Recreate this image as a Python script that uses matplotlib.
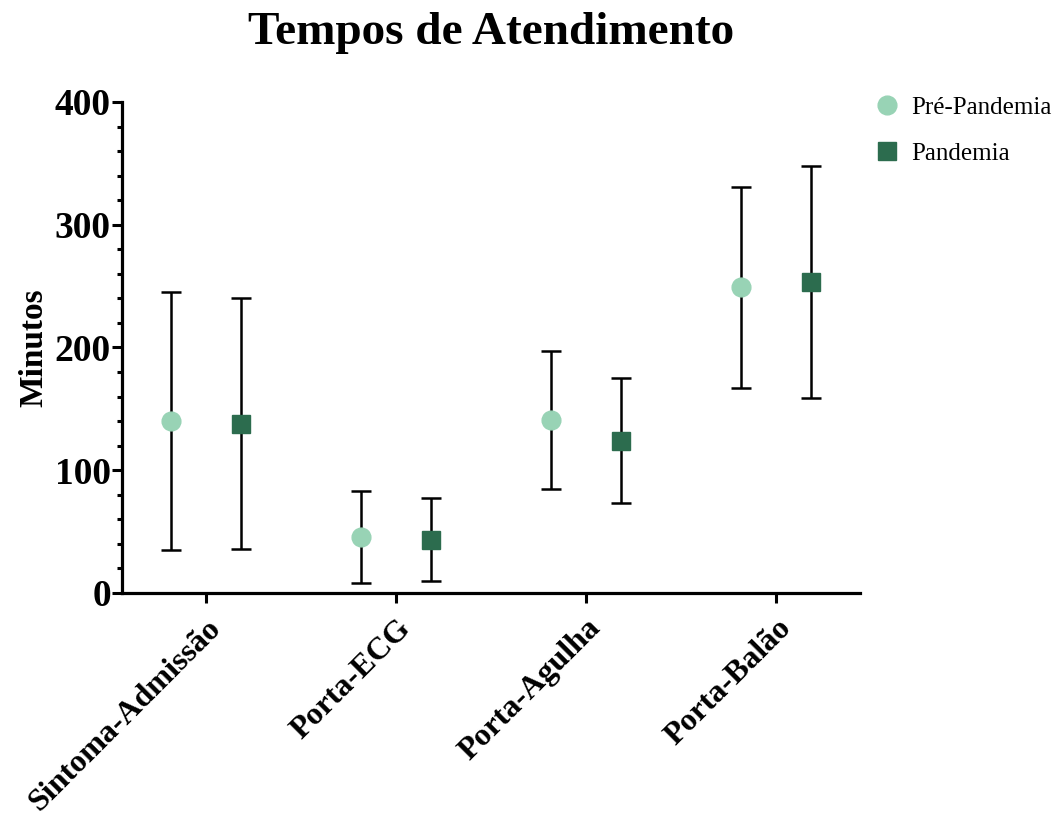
import numpy as np
from matplotlib import pyplot as plt
from matplotlib.ticker import MultipleLocator

plt.rcParams['font.family'] = ['Liberation Serif', 'DejaVu Serif']

categorias = ["Sintoma-Admissão", "Porta-ECG", "Porta-Agulha", "Porta-Balão"]
pre_media = [140, 46, 141, 249]
pre_inf = [35, 8, 85, 167]
pre_sup = [245, 83, 197, 331]
pan_media = [138, 43, 124, 253]
pan_inf = [36, 10, 73, 159]
pan_sup = [240, 77, 175, 348]

cor_pre = '#98d3b5'
cor_pan = '#2c6c4e'

fig = plt.figure(figsize=(10.59, 8.21), dpi=100)
ax = fig.add_axes([122/1059, 1-593/821, (860-122)/1059, (593-102)/821])

x = np.arange(len(categorias))
dx = 0.184

def barras(xs, m, lo, hi, cor, mk, ms, lab):
    m = np.array(m); lo = np.array(lo); hi = np.array(hi)
    ax.errorbar(xs, m, yerr=[m-lo, hi-m], fmt='none', ecolor='black',
                elinewidth=1.8, capsize=7, capthick=1.8, zorder=2)
    ax.plot(xs, m, mk, color=cor, ms=ms, mec=cor, label=lab, zorder=3)

barras(x-dx, pre_media, pre_inf, pre_sup, cor_pre, 'o', 13.5, "Pré-Pandemia")
barras(x+dx, pan_media, pan_inf, pan_sup, cor_pan, 's', 13, "Pandemia")

ax.set_xlim(-0.442, 3.44)
ax.set_ylim(0, 400)
ax.set_xticks(x)
ax.set_xticklabels(categorias, rotation=45, ha='right', rotation_mode='anchor',
                   fontsize=23, fontweight='bold')
ax.yaxis.set_major_locator(MultipleLocator(100))
ax.yaxis.set_minor_locator(MultipleLocator(20))
for t in ax.get_yticklabels():
    t.set_fontsize(27); t.set_fontweight('bold')
ax.tick_params(axis='both', which='major', length=7, width=2.2, color='black')
ax.tick_params(axis='y', which='minor', length=3.5, width=2.2)
ax.tick_params(axis='y', which='major', pad=1)
ax.tick_params(axis='x', pad=8)

for s in ['top', 'right']:
    ax.spines[s].set_visible(False)
for s in ['left', 'bottom']:
    ax.spines[s].set_linewidth(2.3)

ax.set_ylabel("Minutos", fontsize=24, fontweight='bold', labelpad=4)
fig.suptitle("Tempos de Atendimento", fontsize=34, fontweight='bold',
             x=491/1059, y=1-33/821, va='center')

fig.legend(loc='upper left', bbox_to_anchor=(849/1059, 1-74/821), frameon=False,
           fontsize=18, handletextpad=0.4, labelspacing=0.95, handlelength=1.2)

fig.savefig("out.png", dpi=100)
